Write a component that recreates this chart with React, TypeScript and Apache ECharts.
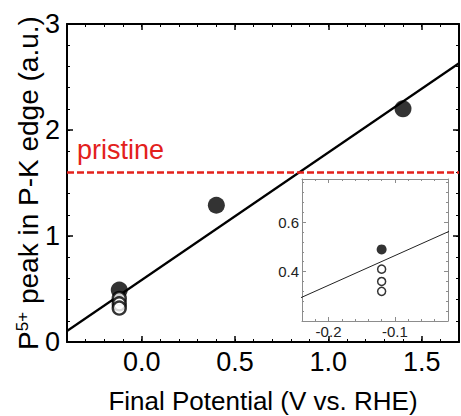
import React, { useEffect, useRef } from "react";
import * as echarts from "echarts";

// ---- data ----
const fitX = [-0.4, 1.7];
const fitY = [0.104, 2.63];
const filledX = [-0.12, 0.4, 1.4];
const filledY = [0.49, 1.29, 2.2];
const openX = [-0.12, -0.12, -0.12];
const openY = [0.41, 0.36, 0.32];
const pristineLevel = 1.6;
const pristineLabel = "pristine";
const xMajorTicks = [0, 0.5, 1.0, 1.5];
const yMajorTicks = [0, 1, 2, 3];
const insetXMajorTicks = [-0.2, -0.1];
const insetYMajorTicks = [0.4, 0.6];
const xTitle = "Final Potential (V vs. RHE)";

const MAIN = { xMin: -0.4, xMax: 1.7, yMin: 0, yMax: 3, xMinor: 0.1, yMinor: 0.2 };
const INSET = { xMin: -0.24, xMax: -0.02, yMin: 0.2, yMax: 0.775, xMinor: 0.02, yMinor: 0.04 };

const FONT = "'Liberation Sans', Arial, Helvetica, sans-serif";

const pairs = (xs: number[], ys: number[]) => xs.map((x, i) => [x, ys[i]]);
const inInset = (p: number[]) =>
  p[0] >= INSET.xMin && p[0] <= INSET.xMax && p[1] >= INSET.yMin && p[1] <= INSET.yMax;

function minorAxis(gridIndex: number, position: string, min: number, max: number, interval: number,
  color: string, lineWidth: number, tickLen: number) {
  return {
    type: "value", gridIndex, position, min, max, interval,
    axisLine: { show: true, onZero: false, lineStyle: { color, width: lineWidth } },
    axisTick: { show: true, inside: true, length: tickLen, lineStyle: { color, width: 1 } },
    axisLabel: { show: false },
    splitLine: { show: false },
  } as any;
}

function majorAxis(gridIndex: number, position: string, min: number, max: number, ticks: number[],
  color: string, tickLen: number, tickWidth: number, label: any) {
  return {
    type: "value", gridIndex, position, min, max,
    axisLine: { show: false, onZero: false },
    axisTick: { show: true, inside: true, length: tickLen, customValues: ticks, lineStyle: { color, width: tickWidth } },
    axisLabel: label ? { show: true, customValues: ticks, ...label } : { show: false },
    splitLine: { show: false },
  } as any;
}

export default function App() {
  const ref = useRef<HTMLDivElement>(null);
  useEffect(() => {
    if (!ref.current) return;
    const chart = echarts.init(ref.current, undefined, { renderer: "svg" });
    const fit = pairs(fitX, fitY);
    const filled = pairs(filledX, filledY);
    const open = pairs(openX, openY);

    const mainLabel = { fontSize: 27, color: "#000", fontFamily: FONT, lineHeight: 27 };
    const insetLabel = { fontSize: 15, color: "#222", fontFamily: FONT, lineHeight: 15 };

    const xAxes = [
      minorAxis(0, "bottom", MAIN.xMin, MAIN.xMax, MAIN.xMinor, "#000", 2, 3),
      majorAxis(0, "bottom", MAIN.xMin, MAIN.xMax, xMajorTicks, "#000", 6, 1.5,
        { ...mainLabel, margin: 6, formatter: (v: number) => v.toFixed(1) }),
      minorAxis(0, "top", MAIN.xMin, MAIN.xMax, MAIN.xMinor, "#000", 2, 3),
      majorAxis(0, "top", MAIN.xMin, MAIN.xMax, xMajorTicks, "#000", 6, 1.5, null),
      minorAxis(1, "bottom", INSET.xMin, INSET.xMax, INSET.xMinor, "#8c8c8c", 1, 2),
      majorAxis(1, "bottom", INSET.xMin, INSET.xMax, insetXMajorTicks, "#8c8c8c", 4, 1,
        { ...insetLabel, margin: 3, formatter: (v: number) => v.toFixed(1) }),
      minorAxis(1, "top", INSET.xMin, INSET.xMax, INSET.xMinor, "#8c8c8c", 1, 2),
      majorAxis(1, "top", INSET.xMin, INSET.xMax, insetXMajorTicks, "#8c8c8c", 4, 1, null),
    ];
    xAxes[0].name = xTitle;
    xAxes[0].nameLocation = "middle";
    xAxes[0].nameGap = 46;
    xAxes[0].nameTextStyle = { fontSize: 26, color: "#000", fontFamily: FONT, lineHeight: 26 };

    const yAxes = [
      minorAxis(0, "left", MAIN.yMin, MAIN.yMax, MAIN.yMinor, "#000", 2, 3),
      majorAxis(0, "left", MAIN.yMin, MAIN.yMax, yMajorTicks, "#000", 6, 1.5,
        { ...mainLabel, margin: 7, formatter: (v: number) => String(Math.round(v)) }),
      minorAxis(0, "right", MAIN.yMin, MAIN.yMax, MAIN.yMinor, "#000", 2, 3),
      majorAxis(0, "right", MAIN.yMin, MAIN.yMax, yMajorTicks, "#000", 6, 1.5, null),
      minorAxis(1, "left", INSET.yMin, INSET.yMax, INSET.yMinor, "#8c8c8c", 1, 2),
      majorAxis(1, "left", INSET.yMin, INSET.yMax, insetYMajorTicks, "#8c8c8c", 4, 1,
        { ...insetLabel, margin: 3, formatter: (v: number) => v.toFixed(1) }),
      minorAxis(1, "right", INSET.yMin, INSET.yMax, INSET.yMinor, "#8c8c8c", 1, 2),
      majorAxis(1, "right", INSET.yMin, INSET.yMax, insetYMajorTicks, "#8c8c8c", 4, 1, null),
    ];
    yAxes[0].name = "{a|P}{s|5+}{a| peak in P-K edge (a.u.)}";
    yAxes[0].nameLocation = "middle";
    yAxes[0].nameGap = 25;
    yAxes[0].nameRotate = 90;
    yAxes[0].nameTextStyle = {
      fontSize: 28, color: "#000", fontFamily: FONT,
      rich: {
        a: { fontSize: 28, color: "#000", fontFamily: FONT },
        s: { fontSize: 17, color: "#000", fontFamily: FONT, verticalAlign: "top" },
      },
    };

    chart.setOption({
      animation: false,
      backgroundColor: "#fff",
      grid: [
        { left: 67, top: 24, width: 392, height: 318, containLabel: false, outerBoundsMode: "none" },
        { left: 302, top: 179, width: 146, height: 142, containLabel: false, outerBoundsMode: "none" },
      ],
      xAxis: xAxes,
      yAxis: yAxes,
      graphic: [
        {
          type: "text", x: 77, y: 150, z: 10,
          style: { text: pristineLabel, fill: "#e3211c", fontSize: 27, fontFamily: FONT, align: "left", verticalAlign: "middle" },
        },
      ],
      series: [
        {
          type: "line", xAxisIndex: 0, yAxisIndex: 0, data: fit, symbol: "none", clip: true,
          lineStyle: { color: "#000", width: 2.2 }, z: 2,
          markLine: {
            silent: true, symbol: "none", label: { show: false },
            lineStyle: { color: "#e3211c", width: 2.5, type: [7, 3] },
            data: [{ yAxis: pristineLevel }],
          },
        },
        {
          type: "scatter", xAxisIndex: 0, yAxisIndex: 0, data: filled, symbol: "circle", symbolSize: 17,
          itemStyle: { color: "#000" }, z: 3,
        },
        {
          type: "scatter", xAxisIndex: 0, yAxisIndex: 0, data: open, symbol: "circle", symbolSize: 13,
          itemStyle: { color: "#fff", borderColor: "#000", borderWidth: 2.4 }, z: 4,
        },
        {
          type: "line", xAxisIndex: 4, yAxisIndex: 4, data: fit, symbol: "none", clip: true,
          lineStyle: { color: "#222", width: 1 }, z: 2,
        },
        {
          type: "scatter", xAxisIndex: 4, yAxisIndex: 4, data: filled.filter(inInset), symbol: "circle", symbolSize: 10,
          itemStyle: { color: "#000" }, z: 3,
        },
        {
          type: "scatter", xAxisIndex: 4, yAxisIndex: 4, data: open.filter(inInset), symbol: "circle", symbolSize: 8,
          itemStyle: { color: "#fff", borderColor: "#000", borderWidth: 1.5 }, z: 4,
        },
      ],
    });
    return () => chart.dispose();
  }, []);
  return (
    <div
      ref={ref}
      style={{ position: "fixed", left: 0, top: 0, width: 461, height: 416, background: "#fff" }}
    />
  );
}
